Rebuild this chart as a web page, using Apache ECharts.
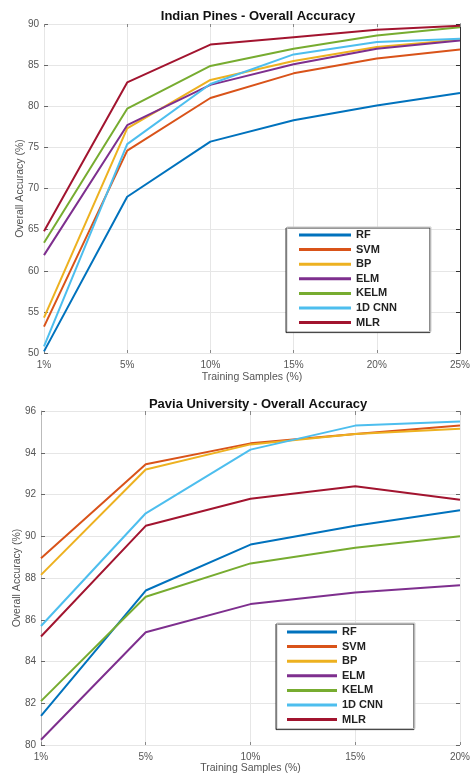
<!DOCTYPE html>
<html>
<head>
<meta charset="utf-8">
<script src="https://cdn.jsdelivr.net/npm/echarts@6/dist/echarts.min.js"></script>
<style>html,body{margin:0;padding:0;background:#fff;}#c{width:473px;height:776px;}</style>
</head>
<body>
<div id="c"></div>
<script>
// ---- data ----
const methods = ['RF', 'SVM', 'BP', 'ELM', 'KELM', '1D CNN', 'MLR'];
const colors = ['#0072BD', '#D95319', '#EDB120', '#7E2F8E', '#77AC30', '#4DBEEE', '#A2142F'];

const catsIP = ['1%', '5%', '10%', '15%', '20%', '25%'];
const ipRF   = [50.2, 69.0, 75.7, 78.3, 80.1, 81.6];
const ipSVM  = [53.2, 74.6, 81.0, 84.0, 85.8, 86.9];
const ipBP   = [54.3, 77.3, 83.2, 85.5, 87.2, 88.1];
const ipELM  = [61.9, 77.7, 82.6, 85.1, 87.0, 88.0];
const ipKELM = [63.4, 79.7, 84.9, 87.0, 88.6, 89.6];
const ipCNN  = [50.8, 75.4, 82.7, 86.3, 87.8, 88.2];
const ipMLR  = [64.8, 82.9, 87.5, 88.4, 89.3, 89.8];

const catsPU = ['1%', '5%', '10%', '15%', '20%'];
const puRF   = [81.4, 87.4, 89.6, 90.5, 91.25];
const puSVM  = [88.95, 93.45, 94.45, 94.9, 95.3];
const puBP   = [88.15, 93.2, 94.4, 94.9, 95.15];
const puELM  = [80.25, 85.4, 86.75, 87.3, 87.65];
const puKELM = [82.1, 87.1, 88.7, 89.45, 90.0];
const puCNN  = [85.7, 91.1, 94.15, 95.3, 95.5];
const puMLR  = [85.2, 90.5, 91.8, 92.4, 91.75];

const ipData = [ipRF, ipSVM, ipBP, ipELM, ipKELM, ipCNN, ipMLR];
const puData = [puRF, puSVM, puBP, puELM, puKELM, puCNN, puMLR];

// ---- chart ----
const FONT = 'Liberation Sans, Arial, sans-serif';
const labelStyle = {color: '#555', fontSize: 10, fontFamily: FONT};
const gridLine = {show: true, lineStyle: {color: '#e6e6e6', width: 1}};

function makeSeries(data, idx) {
  return data.map((d, i) => ({
    name: methods[i], type: 'line', data: d,
    xAxisIndex: idx * 2, yAxisIndex: idx * 2,
    showSymbol: false, symbol: 'none',
    lineStyle: {width: 2, color: colors[i]}, itemStyle: {color: colors[i]},
    z: 3
  }));
}

function legendCfg(left, top, pad) {
  return {
    orient: 'vertical', left: left, top: top,
    data: methods, icon: 'rect', itemWidth: pad.w, itemHeight: 3, itemGap: 2.6,
    padding: pad.p,
    backgroundColor: '#fff', borderColor: '#c8c8c8', borderWidth: 1,
    shadowColor: '#333', shadowBlur: 0, shadowOffsetX: -1, shadowOffsetY: 1,
    textStyle: {fontSize: 11, fontWeight: 'bold', color: '#222', fontFamily: FONT, lineHeight: 12, padding: [0,0,0,0]},
    selectedMode: false
  };
}

const chart = echarts.init(document.getElementById('c'), null, {renderer: 'canvas'});
chart.setOption({
  animation: false,
  backgroundColor: '#fff',
  color: colors,
  title: [
    {text: 'Indian Pines - Overall Accuracy', left: 253, top: 5, textAlign: 'center',
     textStyle: {fontSize: 13, fontWeight: 'bold', color: '#111', fontFamily: FONT}},
    {text: 'Pavia University - Overall Accuracy', left: 253, top: 393, textAlign: 'center',
     textStyle: {fontSize: 13, fontWeight: 'bold', color: '#111', fontFamily: FONT}}
  ],
  legend: [
    legendCfg(287, 227, {w: 52, p: [2, 34, 3, 12]}),
    legendCfg(277, 623, {w: 50, p: [3, 32, 3, 10]})
  ],
  grid: [
    {left: 44, right: 11, top: 24, height: 329},
    {left: 41, right: 10, top: 411, height: 334}
  ],
  xAxis: [
    {type: 'category', gridIndex: 0, data: catsIP, boundaryGap: false, position: 'bottom',
     axisLine: {show: false}, axisTick: {show: true, inside: true, length: 3, lineStyle: {color: '#888'}},
     axisLabel: Object.assign({margin: 7}, labelStyle), splitLine: gridLine,
     name: 'Training Samples (%)', nameLocation: 'middle', nameGap: 19,
     nameTextStyle: {color: '#555', fontSize: 10.5, fontFamily: FONT}},
    {type: 'category', gridIndex: 0, data: catsIP, boundaryGap: false, position: 'top',
     axisLine: {show: false}, axisTick: {show: true, inside: true, length: 3, lineStyle: {color: '#888'}},
     axisLabel: {show: false}, splitLine: {show: false}},
    {type: 'category', gridIndex: 1, data: catsPU, boundaryGap: false, position: 'bottom',
     axisLine: {show: false}, axisTick: {show: true, inside: true, length: 3, lineStyle: {color: '#888'}},
     axisLabel: Object.assign({margin: 7}, labelStyle), splitLine: gridLine,
     name: 'Training Samples (%)', nameLocation: 'middle', nameGap: 17,
     nameTextStyle: {color: '#555', fontSize: 10.5, fontFamily: FONT}},
    {type: 'category', gridIndex: 1, data: catsPU, boundaryGap: false, position: 'top',
     axisLine: {show: false}, axisTick: {show: true, inside: true, length: 4, lineStyle: {color: '#888'}},
     axisLabel: {show: false}, splitLine: {show: false}}
  ],
  yAxis: [
    {type: 'value', gridIndex: 0, min: 50, max: 90, interval: 5, position: 'left',
     axisLine: {show: false}, axisTick: {show: true, inside: true, length: 4, lineStyle: {color: '#666'}},
     axisLabel: Object.assign({margin: 5}, labelStyle), splitLine: gridLine,
     name: 'Overall Accuracy (%)', nameLocation: 'middle', nameGap: 18, nameMoveOverlap: false,
     nameTextStyle: {color: '#555', fontSize: 10.5, fontFamily: FONT}},
    {type: 'value', gridIndex: 0, min: 50, max: 90, interval: 5, position: 'right',
     axisLine: {show: true, lineStyle: {color: '#333', width: 1}},
     axisTick: {show: true, inside: true, length: 4, lineStyle: {color: '#333'}},
     axisLabel: {show: false}, splitLine: {show: false}},
    {type: 'value', gridIndex: 1, min: 80, max: 96, interval: 2, position: 'left',
     axisLine: {show: true, lineStyle: {color: '#bbb', width: 1}},
     axisTick: {show: true, inside: true, length: 4, lineStyle: {color: '#666'}},
     axisLabel: Object.assign({margin: 5}, labelStyle), splitLine: gridLine,
     name: 'Overall Accuracy (%)', nameLocation: 'middle', nameGap: 18, nameMoveOverlap: false,
     nameTextStyle: {color: '#555', fontSize: 10.5, fontFamily: FONT}},
    {type: 'value', gridIndex: 1, min: 80, max: 96, interval: 2, position: 'right',
     axisLine: {show: false},
     axisTick: {show: true, inside: true, length: 4, lineStyle: {color: '#666'}},
     axisLabel: {show: false}, splitLine: {show: false}}
  ],
  series: makeSeries(ipData, 0).concat(makeSeries(puData, 1))
});
</script>
</body>
</html>
